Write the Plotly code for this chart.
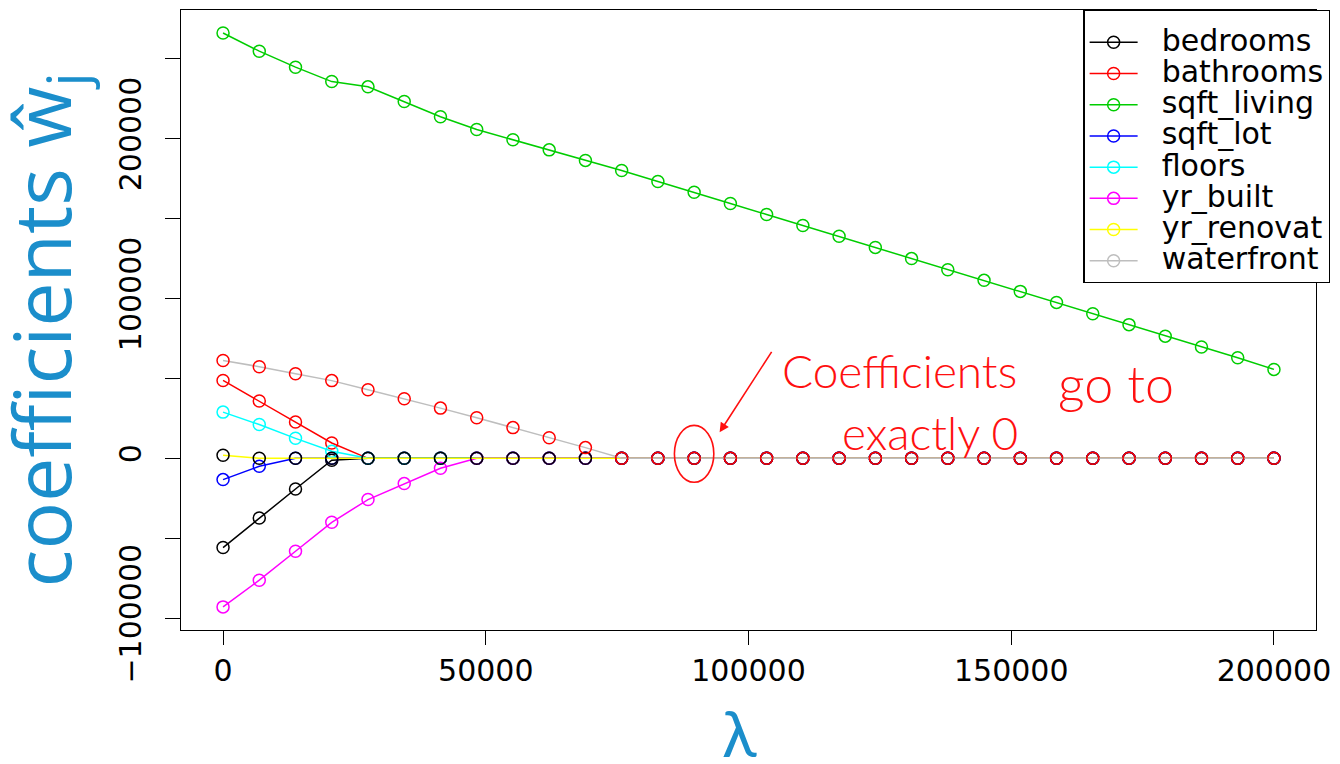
import plotly.graph_objects as go

# lambda (L1 penalty) values
lam = [0, 6897, 13793, 20690, 27586, 34483, 41379, 48276, 55172, 62069,
       68966, 75862, 82759, 89655, 96552, 103448, 110345, 117241, 124138, 131034,
       137931, 144828, 151724, 158621, 165517, 172414, 179310, 186207, 193103, 200000]

bedrooms = [-55800, -37300, -19200, -1200, 0, 0, 0, 0, 0, 0,
            0, 0, 0, 0, 0, 0, 0, 0, 0, 0, 0, 0, 0, 0, 0, 0, 0, 0, 0, 0]
bathrooms = [48700, 35800, 22700, 9600, 0, 0, 0, 0, 0, 0,
             0, 0, 0, 0, 0, 0, 0, 0, 0, 0, 0, 0, 0, 0, 0, 0, 0, 0, 0, 0]
sqft_living = [266000, 254600, 244600, 235600, 232300, 223100, 213600, 205600, 199200, 192900,
               186300, 180000, 173100, 166400, 159400, 152500, 145600, 138900, 131900, 124900,
               117900, 111300, 104400, 97500, 90400, 83600, 76400, 69600, 62900, 55600]
sqft_lot = [-13300, -5000, 0, 0, 0, 0, 0, 0, 0, 0,
            0, 0, 0, 0, 0, 0, 0, 0, 0, 0, 0, 0, 0, 0, 0, 0, 0, 0, 0, 0]
floors = [28900, 21100, 12500, 4400, 0, 0, 0, 0, 0, 0,
          0, 0, 0, 0, 0, 0, 0, 0, 0, 0, 0, 0, 0, 0, 0, 0, 0, 0, 0, 0]
yr_built = [-92900, -76200, -58100, -40000, -25800, -15800, -6200, 0, 0, 0,
            0, 0, 0, 0, 0, 0, 0, 0, 0, 0, 0, 0, 0, 0, 0, 0, 0, 0, 0, 0]
yr_renovated = [1900, 0, 0, 0, 0, 0, 0, 0, 0, 0,
                0, 0, 0, 0, 0, 0, 0, 0, 0, 0, 0, 0, 0, 0, 0, 0, 0, 0, 0, 0]
waterfront = [61200, 57300, 52900, 48600, 42900, 37300, 31400, 25400, 19200, 12900,
              6700, 0, 0, 0, 0, 0, 0, 0, 0, 0, 0, 0, 0, 0, 0, 0, 0, 0, 0, 0]

names = ["bedrooms", "bathrooms", "sqft_living", "sqft_lot", "floors",
         "yr_built", "yr_renovat", "waterfront"]
series = [bedrooms, bathrooms, sqft_living, sqft_lot, floors, yr_built, yr_renovated, waterfront]
line_colors = ["#000000", "#FF0000", "#00CD00", "#0000FF", "#00FFFF", "#FF00FF", "#FFFF00", "#BEBEBE"]
point_colors = ["#000000", "#FF0000", "#00CD00", "#0000FF", "#00FFFF", "#FF00FF", "#000000", "#FF0000"]

x_tickvals = [0, 50000, 100000, 150000, 200000]
x_ticktext = ["0", "50000", "100000", "150000", "200000"]
y_tickvals = [-100000, 0, 100000, 200000]
y_ticktext = ["\u2212100000", "0", "100000", "200000"]

BLUE = "#1B8ECB"
LW = 1.5

fig = go.Figure()
for s, lc, pc in zip(series, line_colors, point_colors):
    fig.add_trace(go.Scatter(
        x=lam, y=s, mode="lines+markers", showlegend=False,
        line=dict(color=lc, width=LW),
        marker=dict(symbol="circle-open", size=12, color=pc, line=dict(width=LW, color=pc)),
        hoverinfo="skip"))

for n, lc in zip(names, line_colors):
    fig.add_trace(go.Scatter(
        x=[None], y=[None], mode="lines+markers",
        name=f'<span style="font-size:30px">&nbsp;&nbsp;{n}</span>',
        line=dict(color=lc, width=LW),
        marker=dict(symbol="circle-open", size=12, color=lc, line=dict(width=LW, color=lc))))

fig.update_layout(
    width=1340, height=764, autosize=False,
    margin=dict(l=181, r=20, t=10, b=134),
    paper_bgcolor="white", plot_bgcolor="white",
    font=dict(family="DejaVu Sans", color="black"),
    legend=dict(x=0.795, xanchor="left", y=1, yanchor="top",
                bgcolor="white", bordercolor="black", borderwidth=1.3,
                font=dict(family="DejaVu Sans", size=21.7, color="black"),
                title=dict(text="&nbsp;", font=dict(size=8)),
                itemwidth=48, tracegroupgap=0),
    xaxis=dict(range=[-8000, 208000], showgrid=False, zeroline=False, automargin=False,
               showline=True, mirror=True, linecolor="black", linewidth=1.3,
               ticks="outside", ticklen=14, tickwidth=1.3, tickcolor="black",
               tickvals=x_tickvals, ticktext=x_ticktext,
               tickfont=dict(family="DejaVu Sans", size=30, color="black")),
    yaxis=dict(range=[-107360, 280360], showgrid=False, zeroline=False, automargin=False,
               showline=True, mirror=True, linecolor="black", linewidth=1.3,
               ticks="outside", ticklen=15, tickwidth=1.3, tickcolor="black",
               tickvals=y_tickvals, ticktext=y_ticktext, tickangle=-90,
               ticklabelstandoff=12,
               minor=dict(tick0=0, dtick=50000, ticks="outside", ticklen=15,
                          tickwidth=1.3, tickcolor="black", showgrid=False),
               tickfont=dict(family="DejaVu Sans", size=30, color="black")),
)

# axis titles placed as annotations
fig.add_annotation(xref="paper", yref="paper", x=-0.1194, y=0.484,
                   xanchor="center", yanchor="middle", textangle=-90,
                   text="coefficients ŵ<sub>j</sub>", showarrow=False,
                   font=dict(family="Open Sans", size=79, color=BLUE))
fig.add_annotation(xref="paper", yref="paper", x=0.4925, y=0, yanchor="top",
                   yshift=-62, text="λ", showarrow=False,
                   font=dict(family="Lato", size=64, color=BLUE))

RED = "#FF1010"
fig.add_annotation(x=106000, y=55000, xref="x", yref="y", text="Coefficients",
                   showarrow=False, xanchor="left", yanchor="middle",
                   font=dict(family="Lato", size=46, color=RED, weight=300))
fig.add_annotation(x=158500, y=47000, xref="x", yref="y", text="go to",
                   showarrow=False, xanchor="left", yanchor="middle",
                   font=dict(family="Lato", size=52, color=RED, weight=300))
fig.add_annotation(x=117400, y=16000, xref="x", yref="y", text="exactly 0",
                   showarrow=False, xanchor="left", yanchor="middle",
                   font=dict(family="Lato", size=46, color=RED, weight=300))
fig.add_annotation(x=94500, y=16250, xref="x", yref="y", text="",
                   showarrow=True, ax=53, ay=-82, arrowcolor=RED, arrowwidth=1.6,
                   arrowhead=2, arrowsize=1.2)
fig.add_shape(type="circle", xref="x", yref="y", x0=85900, x1=93400, y0=-15000, y1=20600,
              line=dict(color=RED, width=1.6))

fig.write_html("out.html")
